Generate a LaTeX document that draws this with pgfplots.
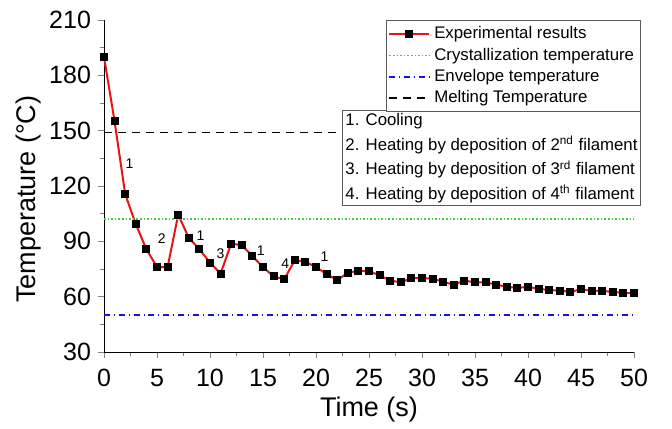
\documentclass[border=0pt]{standalone}
\usepackage{fontspec}
\setmainfont{Liberation Sans}
\usepackage{pgfplots}
\pgfplotsset{compat=1.18}

\definecolor{expred}{RGB}{230,20,20}
\definecolor{crygreen}{RGB}{60,210,60}
\definecolor{envblue}{RGB}{20,20,220}

\begin{document}
\begin{tikzpicture}
  \begin{axis}[
      name=ax,
      scale only axis,
      width=265pt,
      height=166pt,
      xmin=0, xmax=50,
      ymin=30, ymax=210,
      xtick={0,5,...,50},
      ytick={30,60,...,210},
      minor x tick num=1,
      minor y tick num=1,
      axis lines*=left,
      tick align=outside,
      major tick length=3pt,
      minor tick length=1.8pt,
      /pgf/number format/assume math mode=true,
      tick label style={font=\fontsize{12.5}{14}\selectfont},
      xticklabel style={yshift=-2pt},
      xlabel={Time (s)},
      ylabel={Temperature (°C)},
      label style={font=\fontsize{13.5}{15}\selectfont},
      xlabel style={yshift=2pt},
      ylabel style={at={(ticklabel cs:0.46)}, yshift=-3pt},
      legend cell align=left,
      legend style={
        at={(1.013,1.0)}, anchor=north east,
        font=\fontsize{8.4}{10}\selectfont,
        draw=gray!70!black, line width=0.4pt,
        row sep=-1pt,
        inner sep=1.2pt,
      },
      legend image code/.code={
        \draw[mark repeat=2,mark phase=2,#1]
          plot coordinates {(0cm,0cm) (0.35cm,0cm) (0.7cm,0cm)};
      },
      clip=false,
    ]

    \addplot[color=expred, line width=1pt, mark=square*, mark size=1.5pt,
             mark options={black, fill=black}]
    coordinates {
        (0,190) (1,155) (2,115.6) (3,99.3) (4,85.7) (5,76.1) (6,76)
        (7,104.5) (8,91.9) (9,85.7) (10,78.5) (11,72.5) (12,88.8)
        (13,87.9) (14,82) (15,76) (16,71) (17,69.4) (18,79.8) (19,79)
        (20,76) (21,72.3) (22,68.9) (23,73) (24,74) (25,73.8) (26,71.6)
        (27,68.7) (28,67.8) (29,70) (30,70) (31,69.8) (32,68) (33,66.5)
        (34,68.7) (35,67.8) (36,67.8) (37,66.5) (38,65.4) (39,64.7)
        (40,65.4) (41,64.2) (42,63.6) (43,63.3) (44,62.6) (45,64)
        (46,63.3) (47,63.1) (48,62.6) (49,62) (50,61.8)
      };
    \addlegendentry{Experimental results}

    \addplot[color=crygreen, densely dotted, line width=0.8pt]
    coordinates {(0,102) (50,102)};
    \addlegendentry{Crystallization temperature}

    \addplot[color=envblue, dash dot, line width=0.8pt]
    coordinates {(0,50) (50,50)};
    \addlegendentry{Envelope temperature}

    \addplot[color=black, dash pattern=on 4pt off 3pt, line width=0.8pt]
    coordinates {(0,149) (50,149)};
    \addlegendentry{Melting Temperature}

    \node[font=\fontsize{7}{8}\selectfont] at (axis cs:2.4,132) {1};
    \node[font=\fontsize{7}{8}\selectfont] at (axis cs:5.45,91.5) {2};
    \node[font=\fontsize{7}{8}\selectfont] at (axis cs:9.1,93) {1};
    \node[font=\fontsize{7}{8}\selectfont] at (axis cs:11,83.4) {3};
    \node[font=\fontsize{7}{8}\selectfont] at (axis cs:14.8,84.8) {1};
    \node[font=\fontsize{7}{8}\selectfont] at (axis cs:17.1,78) {4};
    \node[font=\fontsize{7}{8}\selectfont] at (axis cs:20.8,81.5) {1};

    \node[draw=gray!70!black, fill=white, anchor=north east, align=left,
          inner sep=1.5pt, line width=0.4pt,
          font=\fontsize{8.4}{12.3}\selectfont]
      at (rel axis cs:1.013,0.729)
      {1. Cooling\\
       2. Heating by deposition of 2\textsuperscript{nd} filament\\
       3. Heating by deposition of 3\textsuperscript{rd} filament\\
       4. Heating by deposition of 4\textsuperscript{th} filament};
  \end{axis}
  \path ([shift={(-52pt,-34.5pt)}]ax.south west)
    rectangle ([shift={(19pt,10pt)}]ax.north east);
\end{tikzpicture}
\end{document}
